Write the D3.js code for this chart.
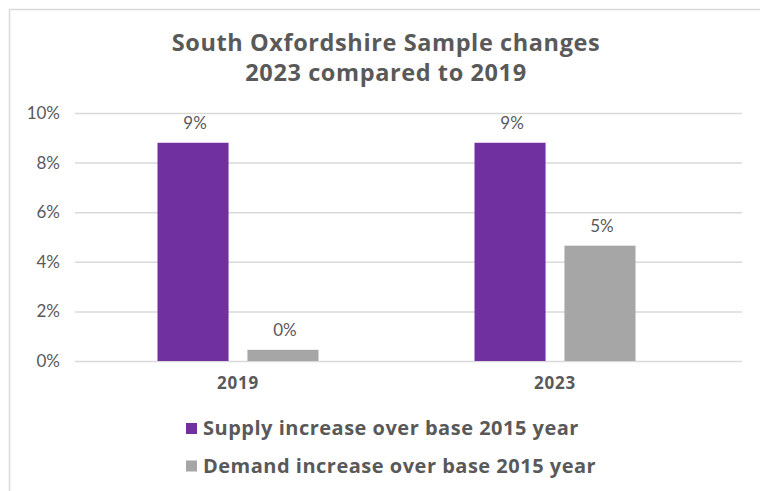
<!DOCTYPE html>
<html><head><meta charset="utf-8">
<script src="https://cdn.jsdelivr.net/npm/d3@7"></script>
<style>body{margin:0;background:#fff}svg{display:block}</style>
</head><body>
<svg id="c" width="760" height="491"></svg>
<script>
const categories = ["2019", "2023"];
const seriesNames = ["Supply increase over base 2015 year", "Demand increase over base 2015 year"];
const supplyValues = [8.8, 8.8];
const demandValues = [0.45, 4.65];
const dataLabels = [["9%", "9%"], ["0%", "5%"]];
const yTicks = [0, 2, 4, 6, 8, 10];
const titleLines = ["South Oxfordshire Sample changes", "2023 compared to 2019"];
const colors = ["#7030A0", "#A6A6A6"];

const series = [supplyValues, demandValues];
const svg = d3.select("#c");
const textCol = "#595959";
const boldFont = "'Open Sans', sans-serif";
const lightFont = "Lato, sans-serif";

// frame
svg.append("line").attr("x1",9).attr("x2",760).attr("y1",9.5).attr("y2",9.5).attr("stroke","#D9D9D9").attr("stroke-width",1.5);
svg.append("line").attr("x1",9.5).attr("x2",9.5).attr("y1",9).attr("y2",491).attr("stroke","#D9D9D9").attr("stroke-width",1.5);

const y = d3.scaleLinear().domain([0,10]).range([361,113]);
const x = d3.scaleBand().domain(categories).range([79.5,713.5]);
const xi = d3.scaleBand().domain([0,1]).range([78,239]).paddingInner(0.21);

// gridlines
const gAxis = svg.append("g").attr("transform","translate(75,0)")
  .call(d3.axisLeft(y).tickValues(yTicks).tickSize(-667).tickFormat(d=>d+"%"));
gAxis.select(".domain").remove();
gAxis.selectAll(".tick line").attr("stroke","#D9D9D9").attr("stroke-width",1.5);
gAxis.selectAll(".tick text").attr("x",-15).attr("fill",textCol)
  .style("font-family",lightFont).style("font-size","17px").style("font-weight",400);

// bars
series.forEach((vals,si)=>{
  svg.append("g").selectAll("rect").data(vals).join("rect")
    .attr("x",(d,i)=>x(categories[i])+xi(si))
    .attr("width",xi.bandwidth())
    .attr("y",d=>y(d))
    .attr("height",d=>y(0)-y(d))
    .attr("fill",colors[si]);
  svg.append("g").selectAll("text").data(vals).join("text")
    .attr("x",(d,i)=>x(categories[i])+xi(si)+xi.bandwidth()/2+2)
    .attr("y",d=>y(d)-14)
    .attr("text-anchor","middle").attr("fill",textCol)
    .style("font-family",lightFont).style("font-size","17px")
    .text((d,i)=>dataLabels[si][i]);
});

// x axis labels
const xAxis = svg.append("g").attr("transform","translate(0,361)")
  .call(d3.axisBottom(x).tickSize(0).tickPadding(16));
xAxis.select(".domain").remove();
xAxis.selectAll(".tick text").attr("fill",textCol)
  .style("font-family",boldFont).style("font-size","17px").style("font-weight",700)
  .style("letter-spacing","0.8px");

// title
svg.append("g").selectAll("text").data(titleLines).join("text")
  .attr("x",386).attr("y",(d,i)=>51+i*30)
  .attr("text-anchor","middle").attr("fill",textCol)
  .style("font-family",boldFont).style("font-size","23.5px").style("font-weight",700)
  .style("letter-spacing","0.6px")
  .text(d=>d);

// legend
const leg = svg.append("g").selectAll("g").data(seriesNames).join("g")
  .attr("transform",(d,i)=>`translate(186,${423+i*37.5})`);
leg.append("rect").attr("width",11).attr("height",11).attr("fill",(d,i)=>colors[i]);
leg.append("text").attr("x",17).attr("y",12).attr("fill",textCol)
  .style("font-family",boldFont).style("font-size","20px").style("font-weight",700)
  .style("letter-spacing","0.5px")
  .text(d=>d);
</script>
</body></html>
